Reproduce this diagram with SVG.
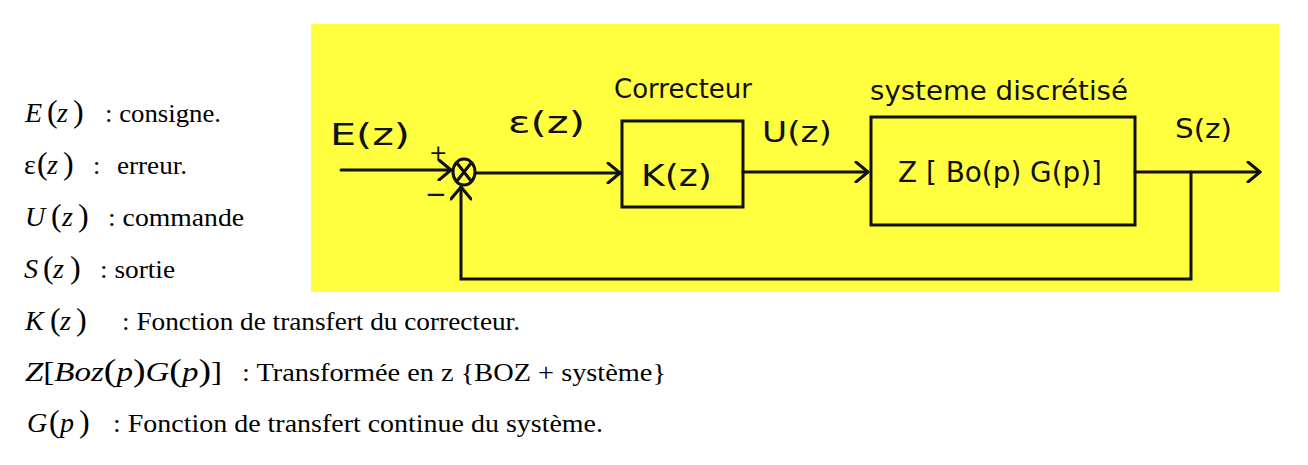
<svg xmlns="http://www.w3.org/2000/svg" width="1308" height="465" viewBox="0 0 1308 465">
  <style>
    .hand { font-family: "DejaVu Sans", "Liberation Sans", sans-serif; fill: #111; }
    .math { font-family: "Liberation Serif", serif; font-style: italic; font-size: 28px; fill: #000; }
    .par { font-style: normal; font-size: 32px; }
    .txt { font-family: "Liberation Serif", serif; font-size: 26px; fill: #000; }
    .ln { stroke: #111; stroke-width: 3; fill: none; stroke-linecap: round; }
  </style>
  <defs>
    <marker id="arr" markerUnits="userSpaceOnUse" markerWidth="16" markerHeight="22" refX="14" refY="11" orient="auto">
      <path d="M2,1 L14,11 L2,21" stroke="#111" stroke-width="3" fill="none" stroke-linecap="round" stroke-linejoin="round"/>
    </marker>
  </defs>
  <rect width="1308" height="465" fill="#fff"/>
  <rect x="311" y="24" width="968" height="268" fill="#ffff40"/>

  <g id="connectors">
    <line class="ln" x1="341" y1="170" x2="451" y2="170" marker-end="url(#arr)"/>
    <line class="ln" x1="476" y1="173" x2="620" y2="173" marker-end="url(#arr)"/>
    <line class="ln" x1="743" y1="172" x2="868" y2="172" marker-end="url(#arr)"/>
    <line class="ln" x1="1135" y1="172" x2="1260" y2="172" marker-end="url(#arr)"/>
    <polyline class="ln" points="1191,172 1191,279 461,279 461,187" marker-end="url(#arr)"/>
  </g>

  <g id="sum">
    <ellipse class="ln" cx="464" cy="172" rx="11" ry="13"/>
    <line class="ln" x1="457" y1="163" x2="471" y2="181"/>
    <line class="ln" x1="471" y1="163" x2="457" y2="181"/>
    <text class="hand" x="429" y="160" font-size="22">+</text>
    <text class="hand" x="425" y="203" font-size="26">−</text>
  </g>

  <g id="correcteur">
    <rect class="ln" x="622" y="121" width="121" height="86"/>
    <text class="hand" x="641" y="186" font-size="30" textLength="71" lengthAdjust="spacingAndGlyphs">K(z)</text>
    <text class="hand" x="614" y="98" font-size="26" textLength="138" lengthAdjust="spacingAndGlyphs">Correcteur</text>
  </g>

  <g id="systeme">
    <rect class="ln" x="871" y="117" width="264" height="108"/>
    <text class="hand" x="898" y="182" font-size="28" textLength="204" lengthAdjust="spacingAndGlyphs">Z [ Bo(p) G(p)]</text>
    <text class="hand" x="870" y="100" font-size="26" textLength="258" lengthAdjust="spacingAndGlyphs">systeme discrétisé</text>
  </g>

  <g id="labels">
    <text class="hand" x="330" y="145" font-size="30" textLength="80" lengthAdjust="spacingAndGlyphs">E(z)</text>
    <text class="hand" x="508" y="133" font-size="30" textLength="77" lengthAdjust="spacingAndGlyphs">ε(z)</text>
    <text class="hand" x="762" y="142" font-size="28" textLength="70" lengthAdjust="spacingAndGlyphs">U(z)</text>
    <text class="hand" x="1175" y="138" font-size="26" textLength="57" lengthAdjust="spacingAndGlyphs">S(z)</text>
  </g>

  <g id="legend">
    <text class="math" x="25" y="122">E<tspan class="par" x="47">(</tspan><tspan x="57">z</tspan><tspan class="par" x="73">)</tspan></text>
    <text class="txt" x="105" y="122" textLength="116" lengthAdjust="spacingAndGlyphs">: consigne.</text>

    <text class="math" x="24" y="174"><tspan font-style="normal">ε</tspan><tspan class="par" x="37">(</tspan><tspan x="47">z</tspan><tspan class="par" x="63">)</tspan></text>
    <text class="txt" x="93" y="174">:</text>
    <text class="txt" x="117" y="174" textLength="70" lengthAdjust="spacingAndGlyphs">erreur.</text>

    <text class="math" x="25" y="226">U<tspan class="par" x="51">(</tspan><tspan x="62">z</tspan><tspan class="par" x="78">)</tspan></text>
    <text class="txt" x="108" y="226" textLength="136" lengthAdjust="spacingAndGlyphs">: commande</text>

    <text class="math" x="24" y="278">S<tspan class="par" x="43">(</tspan><tspan x="53">z</tspan><tspan class="par" x="70">)</tspan></text>
    <text class="txt" x="100" y="278" textLength="75" lengthAdjust="spacingAndGlyphs">: sortie</text>

    <text class="math" x="25" y="330">K<tspan class="par" x="50">(</tspan><tspan x="60">z</tspan><tspan class="par" x="76">)</tspan></text>
    <text class="txt" x="122" y="330" textLength="398" lengthAdjust="spacingAndGlyphs">: Fonction de transfert du correcteur.</text>

    <text class="math" x="25" y="381" textLength="197" lengthAdjust="spacingAndGlyphs">Z<tspan font-style="normal">[</tspan>Boz<tspan class="par">(</tspan>p<tspan class="par">)</tspan>G<tspan class="par">(</tspan>p<tspan class="par">)</tspan><tspan font-style="normal">]</tspan></text>
    <text class="txt" x="242" y="381" textLength="424" lengthAdjust="spacingAndGlyphs">: Transformée en z {BOZ + système}</text>

    <text class="math" x="27" y="432">G<tspan class="par" x="49">(</tspan><tspan x="60">p</tspan><tspan class="par" x="79">)</tspan></text>
    <text class="txt" x="113" y="432" textLength="490" lengthAdjust="spacingAndGlyphs">: Fonction de transfert continue du système.</text>
  </g>
</svg>
